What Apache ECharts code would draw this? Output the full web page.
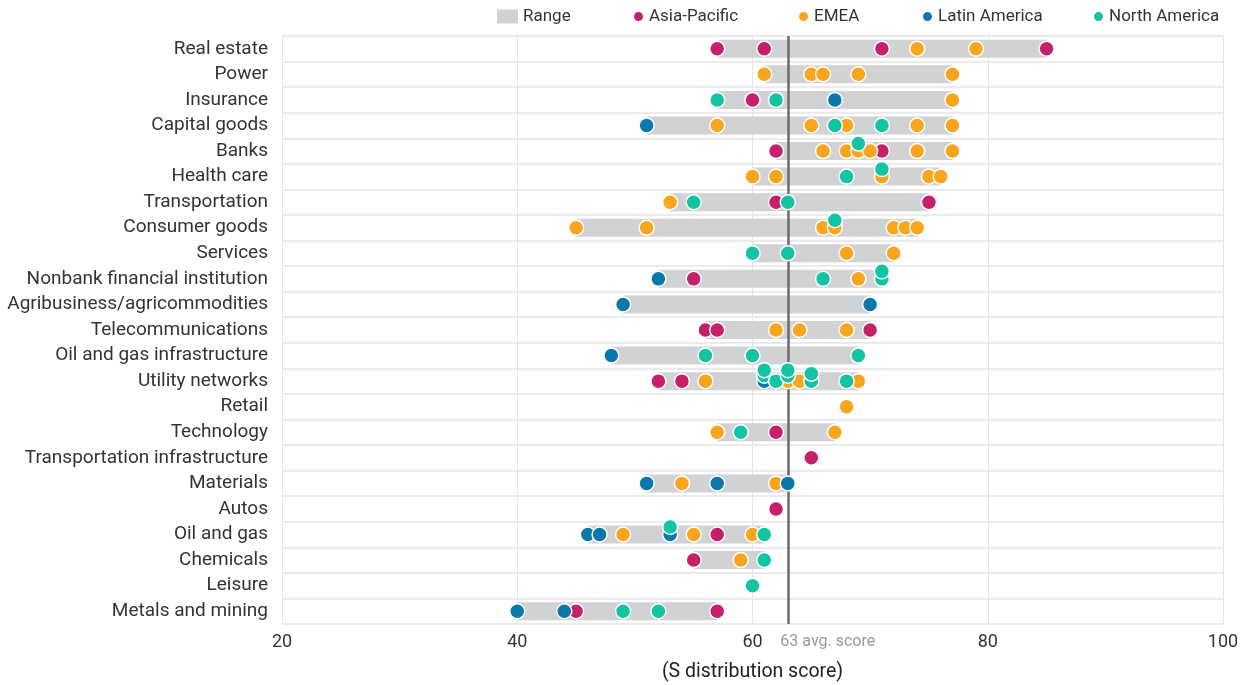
<!DOCTYPE html>
<html>
<head>
<meta charset="utf-8">
<script src="https://cdn.jsdelivr.net/npm/echarts@6/dist/echarts.min.js"></script>
<style>
  html, body { margin: 0; padding: 0; background: #fff; }
  #chart { width: 1246px; height: 685px; }
</style>
</head>
<body>
<div id="chart"></div>
<script>
// Sectors, top to bottom
const categories = [
  'Real estate', 'Power', 'Insurance', 'Capital goods', 'Banks', 'Health care',
  'Transportation', 'Consumer goods', 'Services', 'Nonbank financial institution',
  'Agribusiness/agricommodities', 'Telecommunications', 'Oil and gas infrastructure',
  'Utility networks', 'Retail', 'Technology', 'Transportation infrastructure',
  'Materials', 'Autos', 'Oil and gas', 'Chemicals', 'Leisure', 'Metals and mining'
];

// S distribution scores of rated entities, one list per sector (same order as categories)
const asiaPacific = [
  [57, 61, 71, 85], [], [60], [], [62, 71], [], [62, 75], [], [], [55], [],
  [56, 57, 70], [], [52, 54], [], [62], [65], [], [62], [57], [55], [], [45, 57]
];
const emea = [
  [74, 79], [61, 65, 66, 69, 77], [77], [57, 65, 68, 74, 77], [66, 68, 69, 70, 74, 77],
  [60, 62, 71, 75, 76], [53], [45, 51, 66, 67, 72, 73, 74], [68, 72], [69], [],
  [62, 64, 68], [], [56, 63, 64, 69], [68], [57, 67], [], [54, 62], [], [49, 55, 60],
  [59], [], []
];
const latinAmerica = [
  [], [], [67], [51], [], [], [], [], [], [52], [49, 70],
  [], [48], [61], [], [], [], [51, 57, 63], [], [46, 47, 53], [], [], [40, 44]
];
const northAmerica = [
  [], [], [57, 62], [67, 71], [69], [68, 71], [55, 63], [67], [60, 63], [66, 71, 71], [],
  [], [56, 60, 69], [61, 61, 62, 63, 63, 65, 65, 68], [], [59], [], [], [], [53, 61],
  [61], [60], [49, 52]
];

const avgScore = 63;
const xTicks = { min: 20, max: 100, interval: 20 };

const regions = [
  { name: 'Asia-Pacific', color: '#c7206b', values: asiaPacific },
  { name: 'EMEA', color: '#f9a61c', values: emea },
  { name: 'Latin America', color: '#0a78ab', values: latinAmerica },
  { name: 'North America', color: '#13c4a3', values: northAmerica }
];

// Range of each sector across all regions
const rangeMin = [], rangeSpan = [];
categories.forEach((c, i) => {
  const all = [];
  regions.forEach(r => all.push(...r.values[i]));
  const lo = Math.min(...all), hi = Math.max(...all);
  rangeMin.push(lo);
  rangeSpan.push(hi - lo);
});

// Identical scores in a sector are stacked upward so each dot stays visible
const totals = {}, seen = {};
regions.forEach(r => r.values.forEach((vals, i) => vals.forEach(v => {
  const k = i + '|' + v; totals[k] = (totals[k] || 0) + 1;
})));

const FONT = 'Roboto, "Noto Sans", sans-serif';

const scatterSeries = regions.map(r => ({
  name: r.name,
  type: 'scatter',
  z: 5,
  symbol: 'circle',
  symbolSize: 15,
  itemStyle: { color: r.color, borderColor: '#ffffff', borderWidth: 1.5, opacity: 1 },
  emphasis: { disabled: true },
  data: r.values.flatMap((vals, i) => vals.map(v => {
    const k = i + '|' + v;
    const n = seen[k] || 0; seen[k] = n + 1;
    const step = totals[k] > 2 ? 5.5 : 7.5;
    return { value: [v, i], symbolOffset: [0, -n * step] };
  }))
}));

const legendBase = {
  top: 8,
  padding: 0,
  itemWidth: 11,
  itemHeight: 11,
  textStyle: { fontFamily: FONT, fontSize: 17, color: '#333' },
  selectedMode: false
};

const option = {
  animation: false,
  backgroundColor: '#ffffff',
  textStyle: { fontFamily: FONT },
  legend: [
    Object.assign({}, legendBase, { left: 497, itemWidth: 21, itemHeight: 14, data: [{ name: 'Range', icon: 'rect' }] }),
    Object.assign({}, legendBase, { left: 632, data: [{ name: 'Asia-Pacific', icon: 'circle' }] }),
    Object.assign({}, legendBase, { left: 797, data: [{ name: 'EMEA', icon: 'circle' }] }),
    Object.assign({}, legendBase, { left: 921, data: [{ name: 'Latin America', icon: 'circle' }] }),
    Object.assign({}, legendBase, { left: 1092, data: [{ name: 'North America', icon: 'circle' }] })
  ],
  grid: { left: 282, right: 23, top: 36, bottom: 61, containLabel: false, outerBoundsMode: 'none' },
  xAxis: {
    type: 'value',
    min: xTicks.min,
    max: xTicks.max,
    interval: xTicks.interval,
    name: '(S distribution score)',
    nameLocation: 'middle',
    nameGap: 38,
    nameTextStyle: { fontFamily: FONT, fontSize: 19.5, color: '#222' },
    axisLine: { show: false },
    axisTick: { show: false },
    axisLabel: { fontFamily: FONT, fontSize: 18, color: '#333', margin: 9 },
    splitLine: { show: true, lineStyle: { color: '#e4e4e4', width: 1 } }
  },
  yAxis: {
    type: 'category',
    data: categories,
    inverse: true,
    axisLine: { show: false },
    axisTick: { show: false },
    axisLabel: { fontFamily: FONT, fontSize: 19, color: '#333', margin: 14 },
    splitLine: { show: true, lineStyle: { color: '#e4e4e4', width: 1.5 } }
  },
  series: [
    {
      name: 'rangeBase',
      type: 'bar',
      stack: 'range',
      silent: true,
      barWidth: 18,
      itemStyle: { color: 'transparent' },
      data: rangeMin
    },
    {
      name: 'Range',
      type: 'bar',
      stack: 'range',
      silent: true,
      barWidth: 18,
      itemStyle: { color: '#d1d2d4' },
      data: rangeSpan,
      markLine: {
        silent: true,
        symbol: 'none',
        z: 3,
        lineStyle: { color: '#6b6b6b', width: 2.5, type: 'solid' },
        label: {
          show: true,
          position: 'end',
          distance: 10,
          formatter: '{a|' + avgScore + ' avg. score}',
          rich: { a: { fontFamily: FONT, fontSize: 16, color: '#999', padding: [0, 0, 0, 80] } }
        },
        data: [{ xAxis: avgScore }]
      }
    },
    ...scatterSeries
  ]
};

const chart = echarts.init(document.getElementById('chart'), null, { renderer: 'canvas' });
chart.setOption(option);
</script>
</body>
</html>
